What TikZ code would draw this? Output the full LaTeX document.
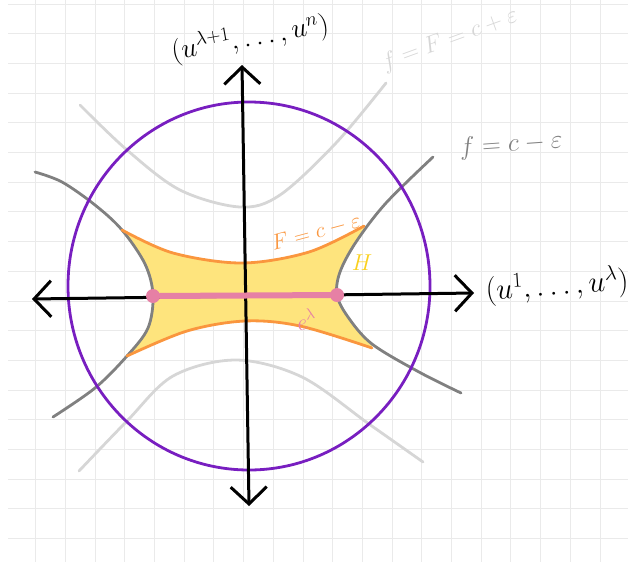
\RequirePackage{fix-cm}
\documentclass[tikz,border=0pt]{standalone}
\usetikzlibrary{arrows.meta}

\definecolor{papergray}{RGB}{234,234,234}
\definecolor{levelgray}{RGB}{128,128,128}
\definecolor{faintgray}{RGB}{214,214,214}
\definecolor{ballpurple}{RGB}{120,30,192}
\definecolor{levelorange}{RGB}{250,150,62}
\definecolor{fillyellow}{RGB}{254,228,125}
\definecolor{labelyellow}{RGB}{250,208,30}
\definecolor{cellpink}{RGB}{230,128,165}

\begin{document}
\begin{tikzpicture}[x=1pt, y=-1pt,
    paper/.style={draw=papergray, line width=0.9pt},
    axis/.style={line width=3pt, line cap=round, line join=round, <->,
        >={Straight Barb[length=17pt, width=36pt]}},
    curve/.style={line width=2.8pt, line cap=round, line join=round},
    sublevel/.style={fill=fillyellow},
    critpt/.style={circle, fill=cellpink, inner sep=0pt, minimum size=14pt},
    cell/.style={draw=cellpink, line width=6pt, line cap=round},
    lbl/.style={inner sep=0pt}
]
\useasboundingbox (0,0) rectangle (628,568);

% graph paper
\foreach \k in {0,...,19}
    \draw[paper] ({35.7+29.7*\k},0) -- ({35.7+29.7*\k},562);
\foreach \k in {0,...,18}
    \draw[paper] (8,{4+29.7*\k}) -- (628,{4+29.7*\k});

% sublevel region
\fill[sublevel]
    plot[smooth, tension=0.55] coordinates {(122,230) (173,253) (242,263) (309,252) (364,227)}
    -- plot[smooth, tension=0.55] coordinates {(364,229) (356,242) (340,272) (337,295) (348,317) (372,346)}
    -- plot[smooth, tension=0.55] coordinates {(372,348) (300,326) (245,321) (187,331) (127,356)}
    -- plot[smooth, tension=0.55] coordinates {(127,356) (148,328) (153,295) (145,264) (122,230)}
    -- cycle;

% level set f = F = c + eps
\draw[curve, faintgray] plot[smooth, tension=0.55] coordinates {(80,105) (127,150) (180,190) (240,207) (280,195) (336,143) (386,83)};
\draw[curve, faintgray] plot[smooth, tension=0.55] coordinates {(79,471) (127,421) (173,376) (236,360) (302,377) (369,424) (423,462)};

% level set f = c - eps
\draw[curve, levelgray] plot[smooth, tension=0.55] coordinates {(35,172) (62,182) (95,205) (122,230) (145,264) (153,295) (148,328) (127,356) (95,388) (53,417)};
\draw[curve, levelgray] plot[smooth, tension=0.55] coordinates {(433,157) (386,203) (356,242) (340,272) (337,295) (348,317) (372,344) (419,372) (461,393)};

% F = c - eps
\draw[curve, levelorange] plot[smooth, tension=0.55] coordinates {(122,230) (173,253) (242,263) (309,252) (364,226)};
\draw[curve, levelorange] plot[smooth, tension=0.55] coordinates {(127,356) (187,331) (245,321) (300,326) (372,348)};

% ball
\draw[curve, ballpurple] (249,286) ellipse [x radius=181, y radius=184];

% axes
\coordinate (xl) at (32,299);
\coordinate (xr) at (474,293);
\coordinate (yb) at (249,506);
\coordinate (yt) at (242,65);
\draw[axis] (xl) -- (xr);
\draw[axis] (yb) -- (yt);

% cell e^lambda
\node[critpt] (pl) at (153,296) {};
\node[critpt] (pr) at (337,295) {};
\draw[cell] (pl) -- (pr);

% labels
\node[lbl, rotate=10, font=\fontsize{28}{34}\selectfont] (ytext) at (250,38) {$(u^{\lambda+1},\dots,u^{n})$};
\node[lbl, rotate=4, font=\fontsize{30}{36}\selectfont] (xtext) at (557,286) {$(u^{1},\dots,u^{\lambda})$};
\node[lbl, rotate=20, text=faintgray, font=\fontsize{24}{29}\selectfont] (fFtext) at (450,40) {$f=F=c+\varepsilon$};
\node[lbl, rotate=4, text=levelgray, font=\fontsize{26}{31}\selectfont] (ftext) at (511,145) {$f=c-\varepsilon$};
\node[lbl, rotate=15, text=levelorange, font=\fontsize{22}{26}\selectfont] (Ftext) at (316,232) {$F=c-\varepsilon$};
\node[lbl, text=labelyellow, font=\fontsize{23}{28}\selectfont] (Htext) at (362,263) {$H$};
\node[lbl, rotate=15, text=cellpink, font=\fontsize{23}{28}\selectfont] (etext) at (306,319) {$e^{\lambda}$};

\end{tikzpicture}
\end{document}
